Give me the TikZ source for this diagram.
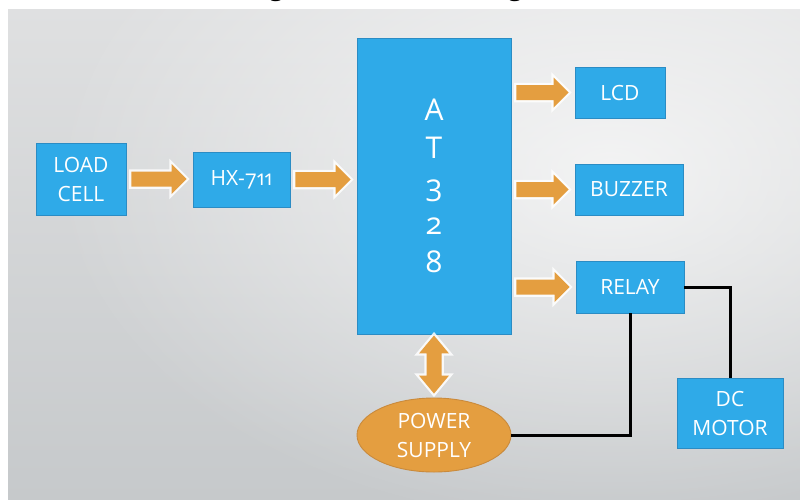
\documentclass[tikz,border=0pt]{standalone}
\usepackage{fontspec}
\setmainfont{Open Sans}[Numbers=OldStyle]
\newfontfamily\titlefont{Liberation Serif}
\usetikzlibrary{calc,fadings,shapes.geometric}

\definecolor{boxblue}{HTML}{2FAAE8}
\definecolor{boxedge}{HTML}{2B8CC4}
\definecolor{flow}{HTML}{E49E40}
\definecolor{flowedge}{HTML}{C98A3C}
\definecolor{panelTop}{HTML}{DFE0E1}
\definecolor{panelBot}{HTML}{C6C9CB}

\tikzfading[name=glowfade, inner color=transparent!30, outer color=transparent!100]

% horizontal block arrow from #1 to #2, level with the centre of #3
\newcommand\flowright[3]{%
  \path[flowarrow] let \p1=(#1.east|-#3.center), \p2=(#2.west|-#3.center) in
    (\x1+5pt,\y1+7.5pt) -- (\x2-21pt,\y1+7.5pt) -- (\x2-21pt,\y1+15pt) --
    (\x2-6pt,\y1) -- (\x2-21pt,\y1-15pt) -- (\x2-21pt,\y1-7.5pt) --
    (\x1+5pt,\y1-7.5pt) -- cycle;}

\begin{document}
\begin{tikzpicture}[x=1pt,y=-1pt,
  block/.style={draw=boxedge, line width=0.9pt, fill=boxblue, text=white,
    font=\fontsize{21}{29}\selectfont, align=center, inner sep=0pt},
  supply/.style={ellipse, draw=flowedge, line width=0.9pt, fill=flow, text=white,
    font=\fontsize{21}{29}\selectfont, align=center, inner sep=0pt},
  wire/.style={line width=3pt, black},
  flowarrow/.style={preaction={draw=white, draw opacity=0.85, line width=4.5pt, line join=miter},
    fill=flow},
  heading/.style={font=\titlefont\bfseries\fontsize{28}{28}\selectfont, anchor=base, inner sep=0pt},
]
% page and background panel
\useasboundingbox (0,0) rectangle (800,499);
\fill[white] (0,0) rectangle (800,499);
\shade[top color=panelTop, bottom color=panelBot] (8,9) rectangle (800,499);
\begin{scope}
  \clip (8,9) rectangle (800,499);
  \fill[white, path fading=glowfade] (610,170) ellipse [x radius=560, y radius=360];
\end{scope}

% heading, of which only the lowest strokes fall on the page
\node[heading] (t1) at (276,-4.5) {g};
\node[heading] (t2) at (515,-4.5) {g};

% blocks
\node[block, minimum width=90pt, minimum height=72pt] (load) at (81,179) {LOAD\\CELL};
\node[block, minimum width=97pt, minimum height=55pt] (hx) at (241.5,179.5) {HX-711};
\node[block, minimum width=154pt, minimum height=296pt,
      font=\fontsize{30}{38}\selectfont] (mcu) at (434,186) {A\\T\\3\\2\\8};
\node[block, minimum width=90pt, minimum height=51pt] (lcd) at (620,92.5) {LCD};
\node[block, minimum width=108pt, minimum height=51pt] (buzzer) at (629,189.5) {BUZZER};
\node[block, minimum width=108pt, minimum height=52pt] (relay) at (630,287) {RELAY};
\node[block, minimum width=106pt, minimum height=70pt] (motor) at (730,413) {DC\\MOTOR};
\node[supply, minimum width=154pt, minimum height=74pt] (ps) at (434,435) {POWER\\SUPPLY};

% signal flow
\flowright{load}{hx}{load}
\flowright{hx}{mcu}{hx}
\flowright{mcu}{lcd}{lcd}
\flowright{mcu}{buzzer}{buzzer}
\flowright{mcu}{relay}{relay}

% two-way link between controller and supply
\path[flowarrow] let \p1=(mcu.south), \p2=(ps.north) in
  (\x1,\y1-1pt) -- (\x1+15pt,\y1-19pt) -- (\x1+7.5pt,\y1-19pt) --
  (\x1+7.5pt,\y2+22pt) -- (\x1+15pt,\y2+22pt) -- (\x1,\y2+4pt) --
  (\x1-15pt,\y2+22pt) -- (\x1-7.5pt,\y2+22pt) -- (\x1-7.5pt,\y1-19pt) --
  (\x1-15pt,\y1-19pt) -- cycle;

% wiring
\draw[wire] (relay.east) -| (motor.north);
\draw[wire] (relay.south) |- (ps.east);
\end{tikzpicture}
\end{document}
